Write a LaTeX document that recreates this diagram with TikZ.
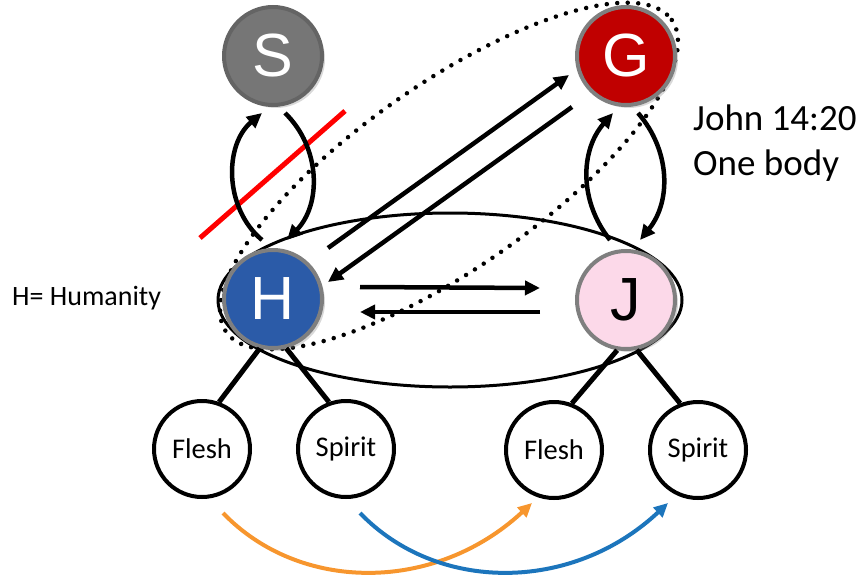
\documentclass[tikz,border=0pt]{standalone}
\usepackage{fontspec}
\setmainfont{Carlito}
\newfontfamily\letterfont{Liberation Sans}
\usetikzlibrary{arrows.meta,calc,shadows}

\definecolor{sgray}{HTML}{767676}
\definecolor{gred}{HTML}{C00000}
\definecolor{hblue}{HTML}{2B5BA8}
\definecolor{jpink}{HTML}{FCD9E9}
\definecolor{rimgray}{HTML}{7F7F7F}
\definecolor{forange}{HTML}{F7962E}
\definecolor{sblue}{HTML}{1C75BC}

\begin{document}
\begin{tikzpicture}[x=1pt, y=-1pt,
  person/.style={circle, draw=rimgray, line width=4pt, minimum size=98pt, inner sep=0pt,
    font=\letterfont\fontsize{61}{61}\selectfont,
    drop shadow={opacity=0.3, shadow xshift=3pt, shadow yshift=-3pt}},
  part/.style={circle, draw, fill=white, line width=4pt, minimum size=96pt, inner sep=0pt,
    font=\fontsize{28.5}{32}\selectfont},
  arr/.style={line width=4.5pt, -{Triangle[length=15pt,width=14pt]}},
  link/.style={line width=5pt},
  dots/.style={line width=4.5pt, line cap=round, dash pattern=on 0pt off 10.5pt},
  colarr/.style={line width=4pt, -{Triangle[length=14pt,width=13pt]}}]
  \useasboundingbox (0,0) rectangle (861,575);

  % the two rings
  \draw[line width=3pt] (450,300) ellipse [x radius=232, y radius=87];
  \draw[dots, rotate around={35:(449,176)}] (449,176) ellipse [x radius=272, y radius=92];

  \node[person, fill=sgray, draw=sgray!85!black, text=white] (S) at (273,56) {S};
  \node[person, fill=gred, text=white] (G) at (626,56) {G};
  \node[person, fill=hblue, text=white] (H) at (273,299) {H};
  \node[person, fill=jpink] (J) at (626,300) {J};

  \node[part] (fleshH) at (202,449) {Flesh};
  \node[part] (spiritH) at (346,449) {Spirit};
  \node[part] (fleshJ) at (554,450) {Flesh};
  \node[part] (spiritJ) at (698,450) {Spirit};

  \node[anchor=base west, inner sep=0pt, font=\fontsize{28}{32}\selectfont] (humanity) at (12,305) {H= Humanity};
  \node[anchor=north west, inner sep=0pt, align=left, font=\fontsize{37}{45}\selectfont] (verse) at (693,105) {John 14:20\\One body};

  \draw[red, line width=5pt] ($(S)+(-73,182)$) -- ($(S)+(72,55)$);

  \draw[arr] ($(H)+(-11,-59)$) to[bend left=50] ($(S)+(-11,57)$);
  \draw[arr] ($(S)+(12,57)$) to[bend left=45] ($(H)+(14,-59)$);
  \draw[arr] ($(J)+(-16,-60)$) to[bend left=40] ($(G)+(-13,57)$);
  \draw[arr] ($(G)+(12,57)$) to[bend left=40] ($(J)+(14,-60)$);

  \draw[arr] ($(H)+(55,-51)$) -- ($(G)+(-57,19)$);
  \draw[arr] ($(G)+(-54,51)$) -- ($(H)+(55,-17)$);
  \draw[arr] ($(H)+(87,-12)$) -- ($(J)+(-86,-12)$);
  \draw[arr] ($(J)+(-86,12)$) -- ($(H)+(87,13)$);

  \draw[link] (H.255) -- (fleshH.70);
  \draw[link] (H.285) -- (spiritH.110);
  \draw[link] (J.260) -- (fleshJ.69);
  \draw[link] (J.282) -- (spiritJ.111);

  \draw[colarr, forange] ($(fleshH)+(21,64)$) .. controls ($(fleshH)+(98,144)$) and ($(fleshJ)+(-119,143)$) .. ($(fleshJ)+(-22,53)$);
  \draw[colarr, sblue] ($(spiritH)+(14,64)$) .. controls ($(spiritH)+(91,144)$) and ($(spiritJ)+(-126,143)$) .. ($(spiritJ)+(-30,53)$);
\end{tikzpicture}
\end{document}
